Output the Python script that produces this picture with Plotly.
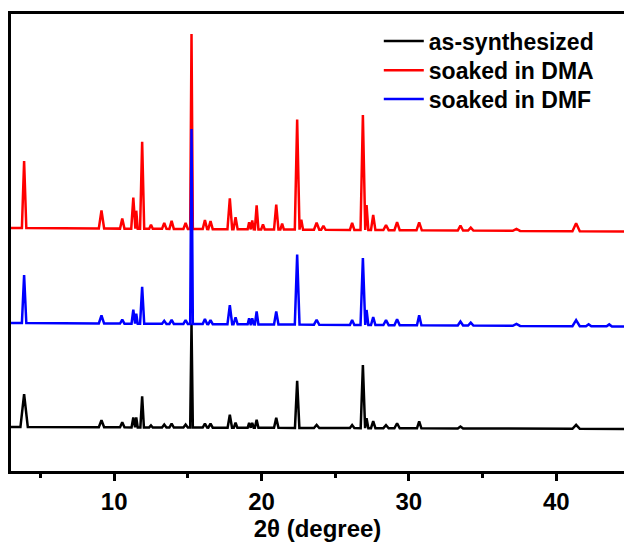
import plotly.graph_objects as go

# ---- data (2theta in degrees, intensity in arbitrary units) ----
# peak tables: centre (2theta), height above baseline, half-width at base
black_pos = [3.89, 9.14, 10.55, 11.3, 11.5, 11.9, 12.5, 13.4, 13.9, 14.85, 15.25, 16.16, 16.54,
             17.85, 18.24, 19.16, 19.37, 19.67, 21.0, 22.42, 23.74, 26.15, 26.88, 27.13, 27.58,
             28.45, 29.2, 30.7, 33.5, 41.35]
black_hgt = [33, 7, 5, 10, 10, 31, 2, 3, 4, 3, 104, 4, 4,
             13, 5, 5, 5, 8, 10, 47, 3, 3, 63, 10, 7,
             3, 5, 7, 2, 4]
black_wid = [0.25, 0.18, 0.15, 0.12, 0.1, 0.12, 0.12, 0.15, 0.15, 0.15, 0.09, 0.15, 0.15,
             0.15, 0.12, 0.1, 0.1, 0.12, 0.15, 0.15, 0.18, 0.15, 0.15, 0.12, 0.15,
             0.18, 0.18, 0.15, 0.18, 0.25]

red_pos = [3.89, 9.14, 10.55, 11.3, 11.5, 11.9, 12.5, 13.4, 13.9, 14.85, 15.25, 16.16, 16.54,
           17.85, 18.24, 19.16, 19.37, 19.67, 20.1, 21.0, 21.4, 22.42, 22.7, 23.74, 24.2,
           26.15, 26.88, 27.13, 27.58, 28.45, 29.2, 30.7, 33.5, 34.2, 37.3, 41.35]
red_hgt = [67, 18, 10, 31, 18, 87, 4, 6, 8, 6, 195, 9, 8,
           31, 12, 7, 9, 24, 5, 25, 6, 110, 10, 7, 4,
           7, 115, 25, 15, 5, 8, 8, 5, 3, 2, 8]
red_wid = [0.15, 0.18, 0.15, 0.14, 0.1, 0.14, 0.12, 0.15, 0.15, 0.15, 0.09, 0.15, 0.15,
           0.16, 0.14, 0.1, 0.1, 0.12, 0.12, 0.15, 0.12, 0.16, 0.12, 0.18, 0.15,
           0.15, 0.16, 0.12, 0.15, 0.18, 0.18, 0.18, 0.18, 0.18, 0.25, 0.25]

blue_pos = [3.89, 9.14, 10.55, 11.3, 11.5, 11.9, 13.4, 13.9, 14.85, 15.25, 16.16, 16.54,
            17.85, 18.24, 19.16, 19.37, 19.67, 21.0, 22.42, 23.74, 26.15, 26.88, 27.13, 27.58,
            28.45, 29.2, 30.7, 33.5, 34.2, 37.3, 41.35, 42.2, 43.6]
blue_hgt = [48, 8, 4, 14, 10, 37, 3, 4, 4, 195, 5, 4,
            19, 7, 6, 6, 13, 13, 70, 5, 5, 67, 15, 8,
            5, 6, 10, 4, 3, 2, 6, 2, 2]
blue_wid = [0.15, 0.18, 0.15, 0.12, 0.1, 0.14, 0.15, 0.15, 0.15, 0.09, 0.15, 0.15,
            0.16, 0.14, 0.1, 0.1, 0.12, 0.15, 0.16, 0.18, 0.15, 0.16, 0.12, 0.15,
            0.18, 0.18, 0.15, 0.18, 0.18, 0.25, 0.25, 0.18, 0.18]

# baselines (stack offsets) at start and end of the scan
black_base = (44, 42)
red_base = (243, 239.5)
blue_base = (148, 144.5)

x_start, x_end = 3.0, 45.0
names = ["as-synthesized", "soaked in DMA", "soaked in DMF"]
colors = ["#000000", "#ff0000", "#0000ff"]
legend_ids = ["legend", "legend2", "legend3"]
legend_rows_y = [0.941, 0.877, 0.814]


def pattern(pos, hgt, wid, base):
    b0, b1 = base

    def bl(x):
        return b0 + (b1 - b0) * (x - x_start) / (x_end - x_start)

    xs, ys = [x_start], [bl(x_start)]
    for c, h, w in sorted(zip(pos, hgt, wid)):
        left = max(c - w, xs[-1])
        xs += [left, c, c + w]
        ys += [bl(left), bl(c) + h, bl(c + w)]
    xs.append(x_end)
    ys.append(bl(x_end))
    return xs, ys


fig = go.Figure()
for (pos, hgt, wid, base), name, col, lid in zip(
        [(black_pos, black_hgt, black_wid, black_base),
         (red_pos, red_hgt, red_wid, red_base),
         (blue_pos, blue_hgt, blue_wid, blue_base)], names, colors, legend_ids):
    xs, ys = pattern(pos, hgt, wid, base)
    fig.add_trace(go.Scatter(x=xs, y=ys, mode="lines", name=name, legend=lid,
                             line=dict(color=col, width=2.5)))

family = "Arial, 'Liberation Sans', sans-serif"
font = dict(family=family, size=24, color="#000", weight="bold")
legfont = dict(family=family, size=23, color="#000", weight="bold")

legends = {}
for lid, ly in zip(legend_ids, legend_rows_y):
    legends[lid] = dict(x=0.6, y=ly, xanchor="left", yanchor="middle", itemwidth=40,
                        bgcolor="rgba(0,0,0,0)", font=legfont)

fig.update_layout(
    width=624, height=547,
    margin=dict(l=11, r=0, t=14, b=76),
    paper_bgcolor="white", plot_bgcolor="white",
    font=font,
    showlegend=True,
    xaxis=dict(range=[3, 44.6], tickvals=[10, 20, 30, 40], ticks="outside",
               ticklen=7, tickwidth=2.5, tickcolor="#000",
               minor=dict(tickvals=[5, 15, 25, 35], ticks="outside", ticklen=4,
                          tickwidth=2.5, tickcolor="#000"),
               showline=True, linewidth=2.5, linecolor="#000", mirror=True,
               showgrid=False, zeroline=False,
               title=dict(text="2θ (degree)", font=font, standoff=2),
               tickfont=font),
    yaxis=dict(range=[0, 457], showticklabels=False, ticks="",
               showline=True, linewidth=2.5, linecolor="#000",
               showgrid=False, zeroline=False),
    **legends,
)

fig.write_html("out.html")
